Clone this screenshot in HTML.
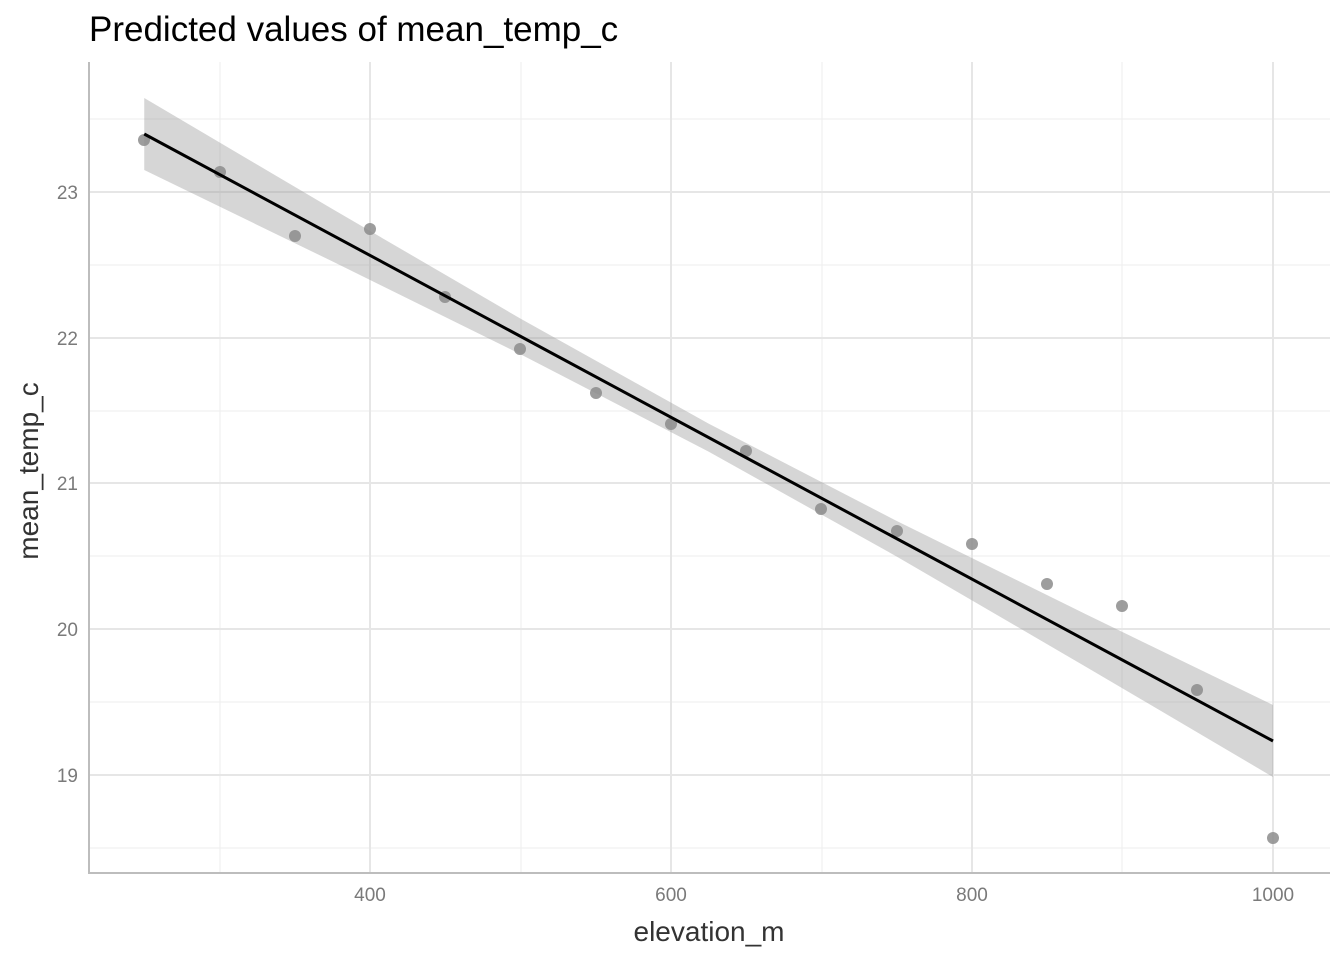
<!DOCTYPE html>
<html><head><meta charset="utf-8"><style>
html,body{margin:0;padding:0;background:#fff;}
svg{display:block;font-family:"Liberation Sans",Arial,sans-serif;}
</style></head><body>
<svg width="1344" height="960" viewBox="0 0 1344 960">
<rect width="1344" height="960" fill="#fff"/>
<g stroke="#f0f0f0" stroke-width="1.2">
<line x1="89" x2="1330" y1="265" y2="265"/><line x1="89" x2="1330" y1="411" y2="411"/>
<line x1="89" x2="1330" y1="556" y2="556"/><line x1="89" x2="1330" y1="702" y2="702"/>
<line x1="89" x2="1330" y1="848" y2="848"/><line x1="89" x2="1330" y1="119" y2="119"/>
<line y1="62" y2="873" x1="220" x2="220"/><line y1="62" y2="873" x1="521" x2="521"/>
<line y1="62" y2="873" x1="822" x2="822"/><line y1="62" y2="873" x1="1122" x2="1122"/>
</g>
<g stroke="#e6e6e6" stroke-width="2">
<line x1="89" x2="1330" y1="192" y2="192"/><line x1="89" x2="1330" y1="338" y2="338"/>
<line x1="89" x2="1330" y1="483" y2="483"/><line x1="89" x2="1330" y1="629" y2="629"/>
<line x1="89" x2="1330" y1="775" y2="775"/>
<line y1="62" y2="873" x1="370" x2="370"/><line y1="62" y2="873" x1="671" x2="671"/>
<line y1="62" y2="873" x1="972" x2="972"/><line y1="62" y2="873" x1="1273" x2="1273"/>
</g>
<polygon fill="#999" fill-opacity="0.4" points="144.25,98 332.4,209 520.5,318.6 708.6,423.6 896.8,521 1084.9,613.8 1273,705 1273,777 1084.9,666.2 896.8,556.6 708.6,451.6 520.5,354.2 332.4,261.4 144.25,170"/>
<g fill="#8c8c8c" fill-opacity="0.85">
<circle cx="144" cy="140" r="6"/><circle cx="220" cy="172" r="6"/><circle cx="295" cy="236" r="6"/>
<circle cx="370" cy="229" r="6"/><circle cx="445" cy="297" r="6"/><circle cx="520" cy="349" r="6"/>
<circle cx="596" cy="393" r="6"/><circle cx="671" cy="424" r="6"/><circle cx="746" cy="451" r="6"/>
<circle cx="821" cy="509" r="6"/><circle cx="897" cy="531" r="6"/><circle cx="972" cy="544" r="6"/>
<circle cx="1047" cy="584" r="6"/><circle cx="1122" cy="606" r="6"/><circle cx="1197" cy="690" r="6"/>
<circle cx="1273" cy="838" r="6"/>
</g>
<line x1="144.25" y1="134" x2="1273" y2="741" stroke="#000" stroke-width="3"/>
<g stroke="#bdbdbd" stroke-width="2"><line x1="89" y1="62" x2="89" y2="874"/><line x1="88" y1="873" x2="1330" y2="873"/></g>
<g fill="#7a7a7a" font-size="19" text-anchor="end">
<text x="78" y="199">23</text><text x="78" y="345">22</text><text x="78" y="490">21</text>
<text x="78" y="636">20</text><text x="78" y="782">19</text></g>
<g fill="#7a7a7a" font-size="19" text-anchor="middle">
<text x="370" y="901">400</text><text x="671" y="901">600</text><text x="972" y="901">800</text><text x="1273" y="901">1000</text></g>
<text x="709" y="941" font-size="28" text-anchor="middle" fill="#333">elevation_m</text>
<text transform="translate(38,471) rotate(-90)" font-size="28" text-anchor="middle" fill="#333">mean_temp_c</text>
<text x="89" y="41" font-size="35" fill="#000">Predicted values of mean_temp_c</text>
</svg>
</body></html>
